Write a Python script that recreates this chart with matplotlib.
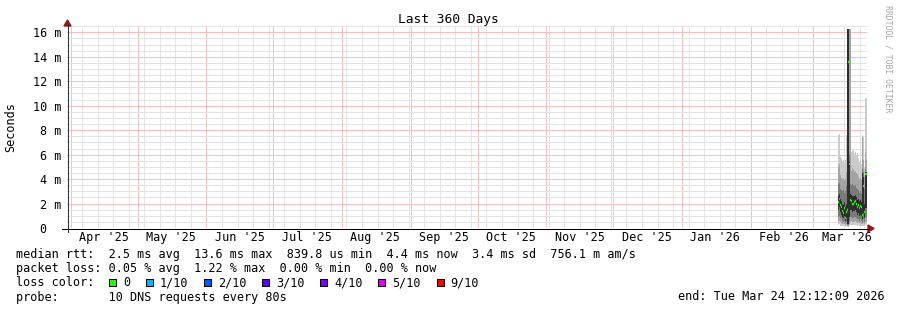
import numpy as np
import matplotlib
matplotlib.use("Agg")
import matplotlib.pyplot as plt
import matplotlib.dates as mdates
import matplotlib.ticker as mticker
import matplotlib.transforms as mtransforms
from matplotlib.lines import Line2D
from matplotlib.patches import Rectangle, Polygon
from datetime import datetime, timedelta

W, H = 897, 310
MONO = "DejaVu Sans Mono"
CW = 7.11  # px per char at 8.5pt

# x range of the graph (360 days)
x_start = datetime(2025, 3, 30, 6, 0)
x_end = x_start + timedelta(days=360)

# smoke data, one value per pixel column (10.8 h) starting here, in ms
data_start = datetime(2026, 3, 12, 4, 48)
step = timedelta(hours=10.8)

ping_max = [7.6, 7.7, 5.8, 5.7, 5.5, 5.6, 5.3, 5.6, 7.6, 16.3, 16.3, 16.3, 16.3, 6.2, 6.3,
            6.4, 6.1, 6.2, 6.0, 6.1, 5.7, 5.4, 5.6, 5.2, 7.6, 7.4, 5.0, 10.6, 10.6]
band2_top = [5.0, 5.2, 4.3, 4.1, 4.0, 4.1, 3.9, 4.0, 4.6, 16.3, 16.3, 16.3, 16.3, 4.7, 4.9,
             4.8, 4.6, 4.7, 4.5, 4.4, 4.2, 4.0, 4.1, 3.9, 7.4, 5.6, 4.2, 6.2, 5.6]
band3_top = [3.6, 3.7, 3.2, 3.1, 3.0, 3.1, 2.9, 3.0, 3.4, 16.3, 16.3, 6.0, 3.6, 3.5, 3.6,
             3.5, 3.4, 3.5, 3.3, 3.2, 3.1, 2.9, 3.0, 2.8, 4.8, 4.6, 3.2, 4.8, 4.4]
band4_top = [2.6, 2.8, 2.4, 2.2, 2.0, 1.9, 2.1, 1.7, 2.0, 16.3, 16.3, 5.4, 2.8, 2.7, 2.6,
             2.6, 2.6, 2.7, 2.5, 2.3, 2.4, 2.2, 2.3, 2.1, 4.5, 4.2, 2.0, 4.6, 4.6]
band4_bot = [1.5, 1.7, 1.3, 1.1, 0.9, 0.8, 1.0, 0.6, 0.8, 0.3, 0.3, 0.9, 1.5, 1.5, 1.3,
             1.4, 1.4, 1.5, 1.3, 1.1, 1.2, 1.0, 1.1, 1.0, 0.7, 1.2, 0.8, 1.6, 1.6]
band3_bot = [0.9, 1.0, 0.8, 0.7, 0.6, 0.5, 0.6, 0.4, 0.5, 0.25, 0.25, 0.6, 0.9, 0.9, 0.8,
             0.8, 0.9, 0.9, 0.8, 0.7, 0.7, 0.6, 0.7, 0.6, 0.5, 0.7, 0.5, 0.9, 0.9]
band2_bot = [0.5, 0.6, 0.45, 0.4, 0.35, 0.3, 0.35, 0.25, 0.3, 0.2, 0.2, 0.35, 0.5, 0.55, 0.5,
             0.5, 0.5, 0.55, 0.5, 0.4, 0.45, 0.4, 0.4, 0.35, 0.3, 0.4, 0.3, 0.5, 0.5]
ping_min = [0.25, 0.3, 0.2, 0.2, 0.18, 0.15, 0.18, 0.12, 0.15, 0.1, 0.1, 0.18, 0.25, 0.28, 0.25,
            0.25, 0.25, 0.28, 0.25, 0.2, 0.22, 0.2, 0.2, 0.18, 0.15, 0.2, 0.15, 0.25, 0.25]
median_rtt = [2.1, 2.4, 1.9, 1.7, 1.4, 1.2, 1.6, 0.84, 1.3, 1.5, 13.6, 5.2, 2.3, 2.2, 2.0,
              2.0, 2.1, 2.2, 2.0, 1.7, 1.9, 1.6, 1.8, 1.7, 1.1, 3.4, 1.3, 4.4, 4.4]
loss_count = [0, 1, 0, 0, 0, 0, 0, 0, 0, 0, 0, 0, 0, 0, 0,
              0, 0, 0, 0, 0, 0, 0, 0, 0, 0, 0, 0, 0, 0]

loss_labels = ["0", "1/10", "2/10", "3/10", "4/10", "5/10", "9/10"]
loss_colors = ["#26ff00", "#00b8ff", "#0059ff", "#5e00ff", "#7e00ff", "#dd00ff", "#ff0000"]

month_labels = ["Apr '25", "May '25", "Jun '25", "Jul '25", "Aug '25", "Sep '25",
                "Oct '25", "Nov '25", "Dec '25", "Jan '26", "Feb '26", "Mar '26"]
label_dates = [datetime(2025 + (3 + i) // 12, (3 + i) % 12 + 1, 16) for i in range(12)]

ytick_vals = [0, 2, 4, 6, 8, 10, 12, 14, 16]

legend_lines = [
    "median rtt:  2.5 ms avg  13.6 ms max  839.8 us min  4.4 ms now  3.4 ms sd  756.1 m am/s",
    "packet loss: 0.05 % avg  1.22 % max  0.00 % min  0.00 % now",
]
probe_line = "probe:       10 DNS requests every 80s"
end_line = "end: Tue Mar 24 12:12:09 2026"


def fx(x):
    return x / W


def fy(y):
    return 1 - y / H


fig = plt.figure(figsize=(W / 100, H / 100), dpi=100)
fig.patch.set_facecolor("white")

px_per_ms = 12.23
ymax = 16.5
ax = fig.add_axes([fx(67), (H - 228) / H, 800 / W, ymax * px_per_ms / H])
ax.set_facecolor("white")
ax.set_xlim(x_start, x_end)
ax.set_ylim(0, ymax)
for s in ax.spines.values():
    s.set_visible(False)

# grid (dotted in the original, drawn as thin pale lines here)
ax.xaxis.set_major_locator(mdates.MonthLocator(bymonthday=1))
ax.xaxis.set_minor_locator(mdates.WeekdayLocator(byweekday=mdates.SU))
ax.yaxis.set_major_locator(mticker.MultipleLocator(2))
ax.yaxis.set_minor_locator(mticker.MultipleLocator(0.5))
ax.tick_params(which="both", length=0, labelbottom=False, labelleft=False)
ax.grid(which="minor", color="#e3e3e3", linestyle="-", linewidth=0.72,
        antialiased=False)
ax.grid(which="major", color="#f7c0c0", linestyle="-", linewidth=0.72,
        antialiased=False)
ax.set_axisbelow(True)

# smoke
n = len(median_rtt)
edges = [data_start + step * i for i in range(n + 1)]


def ext(v):
    return list(v) + [v[-1]]


bands = [
    (ping_min, ping_max, "#cbcbcb"),
    (band2_bot, band2_top, "#a3a3a3"),
    (band3_bot, band3_top, "#7a7a7a"),
    (band4_bot, band4_top, "#2e2e2e"),
]
for lo, hi, col in bands:
    ax.fill_between(edges, ext(lo), ext(hi), step="post", color=col, linewidth=0, zorder=2)

# median coloured by loss
for i in range(n):
    ax.hlines(median_rtt[i], edges[i], edges[i + 1], colors=loss_colors[loss_count[i]],
              linewidth=1.6, zorder=3)

# axes lines and arrows
fig.add_artist(Line2D([fx(62), fx(869)], [fy(228.5), fy(228.5)], color="black", lw=0.75))
fig.add_artist(Line2D([fx(67.5), fx(67.5)], [fy(232), fy(24)], color="#333333", lw=0.75))
fig.add_artist(Polygon([(fx(868), fy(225)), (fx(874), fy(228.5)), (fx(868), fy(232))],
                       closed=True, color="#931717", transform=fig.transFigure))
fig.add_artist(Polygon([(fx(64), fy(26)), (fx(67.5), fy(20)), (fx(71), fy(26))],
                       closed=True, color="#931717", transform=fig.transFigure))

# y labels
ytrans = mtransforms.blended_transform_factory(fig.transFigure, ax.transData)
for v in ytick_vals:
    lab = "0  " if v == 0 else f"{v} m"
    ax.text(fx(61 - len(lab) * CW), v, lab, transform=ytrans, ha="left",
            va="center_baseline", family=MONO, fontsize=8.5, color="black")

# x labels
xtrans = mtransforms.blended_transform_factory(ax.transData, fig.transFigure)
for d, lab in zip(label_dates, month_labels):
    ax.text(d, fy(241), lab, transform=xtrans, ha="center", va="baseline",
            family=MONO, fontsize=8.5, color="black")

# title and axis label
fig.text(fx(448), fy(18.5), "Last 360 Days", ha="center", va="center_baseline",
         family=MONO, fontsize=9.3)
fig.text(fx(10.7), fy(127.5), "Seconds", rotation=90, ha="center", va="center",
         family=MONO, fontsize=8.5)
fig.text(fx(887.5), fy(59), "RRDTOOL / TOBI OETIKER", rotation=270, ha="center",
         va="center", family=MONO, fontsize=5.9, color="#a8a8a8")

# legend
baselines = [258, 272, 286.5, 300.5]
for line, b in zip(legend_lines, baselines):
    fig.text(fx(16), fy(b), line, ha="left", va="baseline", family=MONO, fontsize=8.5)

fig.text(fx(16), fy(baselines[2]), "loss color:", ha="left", va="baseline",
         family=MONO, fontsize=8.5)
tx = 123.0
for lab, col in zip(loss_labels, loss_colors):
    fig.add_artist(Rectangle((fx(tx - 14), fy(286)), 7 / W, 7.5 / H, facecolor=col,
                             edgecolor="black", linewidth=0.75, transform=fig.transFigure))
    fig.text(fx(tx), fy(baselines[2]), lab, ha="left", va="baseline", family=MONO,
             fontsize=8.5)
    tx += len(lab) * CW + 2 * CW + 15.5

fig.text(fx(16), fy(baselines[3]), probe_line, ha="left", va="baseline", family=MONO,
         fontsize=8.5)
fig.text(fx(678), fy(baselines[3]), end_line, ha="left", va="baseline", family=MONO,
         fontsize=8.5)

fig.savefig("out.png", dpi=100, facecolor="white")
